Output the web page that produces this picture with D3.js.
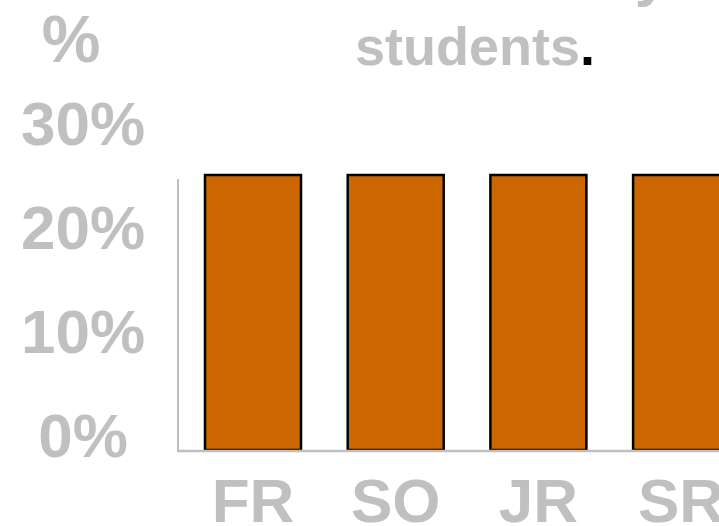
<!DOCTYPE html>
<html>
<head>
<meta charset="utf-8">
<script src="https://cdn.jsdelivr.net/npm/d3@7"></script>
<style>
  html, body { margin: 0; padding: 0; background: #fff; }
  svg { display: block; }
  text { font-family: "Liberation Sans", Arial, sans-serif; font-weight: bold; }
</style>
</head>
<body>
<svg id="chart" width="719" height="526"></svg>
<script>
// Share of students in each class year
const categories = ["FR", "SO", "JR", "SR"];
const shares = [0.25, 0.25, 0.25, 0.25];
const tickValues = [0, 0.1, 0.2, 0.3];
const tickLabels = ["0%", "10%", "20%", "30%"];

const svg = d3.select("#chart");
const grey = "#c0c0c0";

// Vertical scale: 0% .. 30%
const y = d3.scaleLinear().domain([0, 0.3]).range([435, 123]);
const baseY = 450;          // plot floor
const axisX = 178;

// Bars: 96px wide on a 142.7px step, first bar starting at x = 205
const x = d3.scaleBand().domain(categories)
  .range([205, 205 + 3 * 142.7 + 96]).paddingInner(1 - 96 / 142.7).paddingOuter(0);

// Title fragments
svg.append("text").attr("x", 668).attr("y", -5).attr("text-anchor", "end")
  .attr("font-size", 60).attr("fill", grey).text("y");
const t = svg.append("text").attr("x", 355).attr("y", 65)
  .attr("font-size", 54).attr("fill", grey);
t.append("tspan").text("students");
t.append("tspan").attr("fill", "#000").text(".");
svg.append("text").attr("x", 71).attr("y", 62).attr("text-anchor", "middle")
  .attr("font-size", 66).attr("fill", grey).text("%");

// Axis lines
svg.append("line").attr("x1", axisX).attr("x2", axisX)
  .attr("y1", 179).attr("y2", baseY + 1)
  .attr("stroke", grey).attr("stroke-width", 2);

svg.selectAll("rect.bar").data(shares).join("rect")
  .attr("class", "bar")
  .attr("x", (d, i) => x(categories[i]))
  .attr("width", x.bandwidth())
  .attr("y", d => y(d))
  .attr("height", d => baseY - y(d))
  .attr("fill", "#cc6600")
  .attr("stroke", "#000").attr("stroke-width", 2.5);

svg.append("line").attr("x1", axisX - 1).attr("x2", 719)
  .attr("y1", baseY + 1).attr("y2", baseY + 1)
  .attr("stroke", grey).attr("stroke-width", 2.5);

// Y tick labels
svg.selectAll("text.ytick").data(tickValues).join("text")
  .attr("class", "ytick")
  .attr("x", 83).attr("y", d => y(d))
  .attr("dy", "0.36em")
  .attr("text-anchor", "middle")
  .attr("font-size", 62).attr("fill", grey)
  .text((d, i) => tickLabels[i]);

// Category labels, centred under their bars
svg.selectAll("text.xtick").data(categories).join("text")
  .attr("class", "xtick")
  .attr("x", d => x(d) + x.bandwidth() / 2).attr("y", 522)
  .attr("text-anchor", "middle")
  .attr("font-size", 62).attr("fill", grey)
  .text(d => d);
</script>
</body>
</html>
